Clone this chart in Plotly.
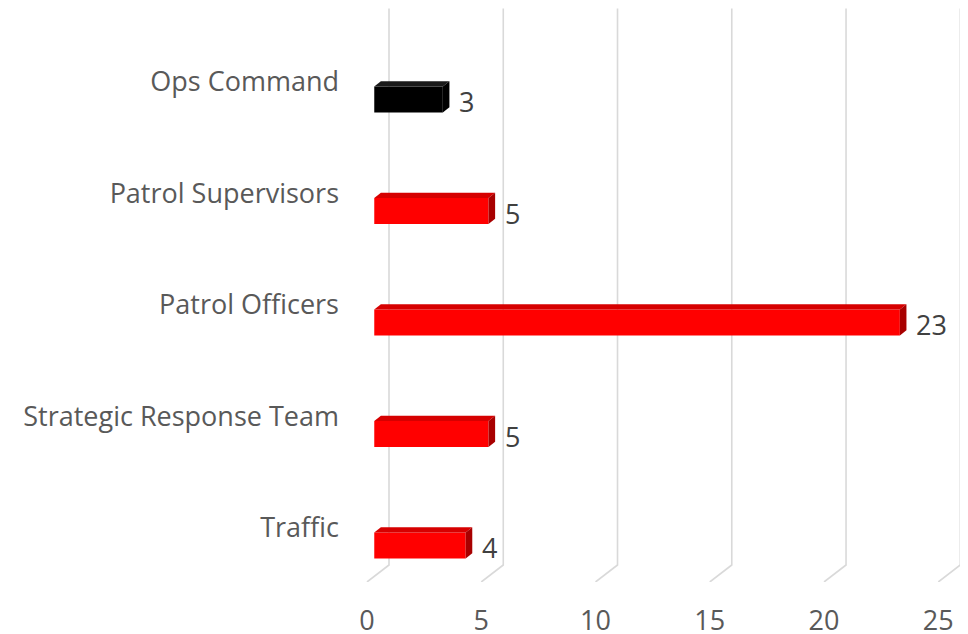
import plotly.graph_objects as go

# data (bottom to top)
categories = ["Traffic", "Strategic Response Team", "Patrol Officers", "Patrol Supervisors", "Ops Command"]
counts = [4, 5, 23, 5, 3]
face_colors = ["#FF0000", "#FF0000", "#FF0000", "#FF0000", "#000000"]
top_colors = ["#D60000", "#D60000", "#D60000", "#D60000", "#1A1A1A"]
side_colors = ["#A80000", "#A80000", "#A80000", "#A80000", "#000000"]
x_ticks = [0, 5, 10, 15, 20, 25]

# fake 3D: full depth of the chart box in data units, bar depth fractions
DX, DY = 0.963, 0.1525
F1, F2 = 0.33, 0.63
H = 0.233
Y_FLOOR, Y_TOP = -0.278, 4.865

fig = go.Figure()

# back wall gridlines + floor slant (behind the bars)
for v in x_ticks:
    fig.add_shape(type="path", layer="below",
                  path=f"M {v},{Y_FLOOR} L {v + DX},{Y_FLOOR + DY} L {v + DX},{Y_TOP}",
                  line=dict(color="#D9D9D9", width=1.6))

ypos = list(range(len(categories)))

# front faces
fig.add_trace(go.Bar(
    y=[i + F1 * DY for i in ypos], x=counts, base=F1 * DX, orientation="h",
    width=H, marker=dict(color=face_colors, line=dict(width=0)),
    showlegend=False, hoverinfo="skip"))

# top and side faces
d = F2 - F1
for i, v in enumerate(counts):
    x0 = F1 * DX
    x1 = v + F1 * DX
    yc = i + F1 * DY
    top, bot = yc + H / 2, yc - H / 2
    fig.add_trace(go.Scatter(
        x=[x0, x1, x1 + d * DX, x0 + d * DX, x0],
        y=[top, top, top + d * DY, top + d * DY, top],
        fill="toself", fillcolor=top_colors[i], mode="lines",
        line=dict(width=0, color=top_colors[i]), hoverinfo="skip", showlegend=False))
    fig.add_trace(go.Scatter(
        x=[x1, x1, x1 + d * DX, x1 + d * DX, x1],
        y=[bot, top, top + d * DY, bot + d * DY, bot],
        fill="toself", fillcolor=side_colors[i], mode="lines",
        line=dict(width=0, color=side_colors[i]), hoverinfo="skip", showlegend=False))
    fig.add_annotation(x=v + F2 * DX, y=i + 0.03, text=str(v), showarrow=False,
                       xanchor="left", xshift=8,
                       font=dict(family="Open Sans", size=27, color="#404040"))

# page body has an 8px margin, so the figure is 8px smaller each way
fig.update_layout(
    width=960, height=626,
    margin=dict(l=342, r=0, t=0, b=52),
    paper_bgcolor="white", plot_bgcolor="white",
    font=dict(family="Open Sans", size=27, color="#595959"),
    xaxis=dict(range=[-0.744, 26.30], tickvals=x_ticks, showgrid=False, zeroline=False,
               showline=False, ticks="", ticklabelstandoff=20, automargin=False),
    yaxis=dict(range=[Y_FLOOR, 4.870], tickvals=[i + 0.21 for i in ypos], ticktext=categories,
               showgrid=False, zeroline=False, showline=False, ticks="", ticklabelstandoff=10,
               automargin=False),
)

fig.write_html("out.html")
